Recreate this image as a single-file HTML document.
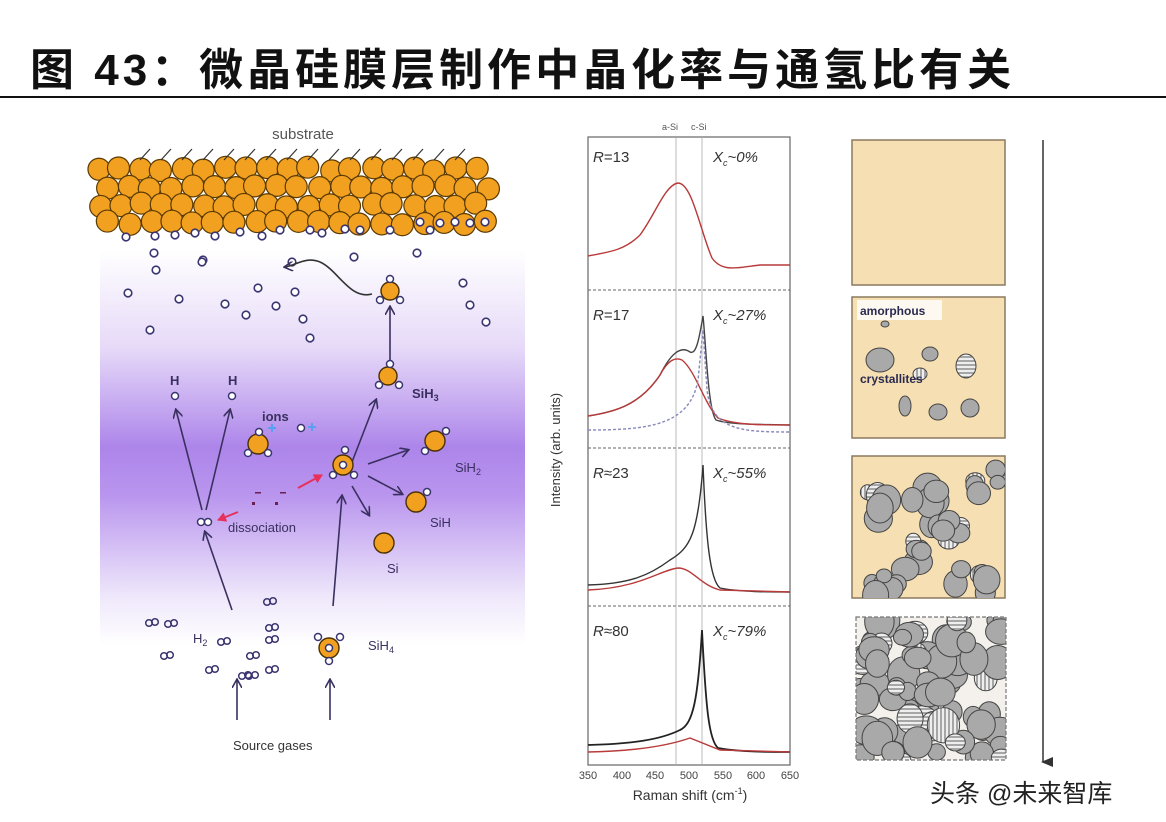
<!DOCTYPE html>
<html><head><meta charset="utf-8">
<style>
html,body{margin:0;padding:0;background:#fff;}
body{width:1166px;height:822px;overflow:hidden;position:relative;font-family:"Liberation Sans","Noto Sans CJK SC",sans-serif;}
.title{position:absolute;left:30px;top:34px;font-size:44px;font-weight:bold;color:#111;letter-spacing:4px;font-family:"Liberation Sans","Noto Sans CJK SC",sans-serif;white-space:nowrap;}
.rule{position:absolute;left:0;top:96px;width:1166px;height:2px;background:#111;}
svg{position:absolute;left:0;top:0;}
</style></head><body>
<div class="title">图 43：微晶硅膜层制作中晶化率与通氢比有关</div>
<div class="rule"></div>
<svg width="1166" height="822" viewBox="0 0 1166 822" font-family="Liberation Sans, sans-serif">
<defs>
<linearGradient id="pg" x1="0" y1="0" x2="0" y2="1">
<stop offset="0" stop-color="#fff"/>
<stop offset="0.25" stop-color="#e6d9f8"/>
<stop offset="0.5" stop-color="#ad85ea"/>
<stop offset="0.62" stop-color="#b995ee"/>
<stop offset="0.88" stop-color="#efe8fb"/>
<stop offset="1" stop-color="#fff"/>
</linearGradient>
<clipPath id="c4"><rect x="856" y="617" width="150" height="143"/></clipPath>
<clipPath id="c3"><rect x="852" y="456" width="153" height="142"/></clipPath>
<marker id="ar" markerWidth="10" markerHeight="10" refX="8" refY="5" orient="auto" markerUnits="userSpaceOnUse"><path d="M0,0 L9,5 L0,10" fill="none" stroke="#3a3060" stroke-width="1.6"/></marker>
<marker id="arr" markerWidth="10" markerHeight="10" refX="8" refY="5" orient="auto" markerUnits="userSpaceOnUse"><path d="M0,0 L9,5 L0,10 z" fill="#e8305a"/></marker>
<marker id="ak" markerWidth="10" markerHeight="12" refX="5" refY="10" orient="auto" markerUnits="userSpaceOnUse"><path d="M0,0 L10,0 L5,12 z" fill="#333"/></marker>
<pattern id="hl" width="6" height="4" patternUnits="userSpaceOnUse"><rect width="6" height="4" fill="#eee"/><line x1="0" y1="1" x2="6" y2="1" stroke="#777" stroke-width="1.2"/></pattern>
<pattern id="vl" width="4" height="6" patternUnits="userSpaceOnUse"><rect width="4" height="6" fill="#eee"/><line x1="1" y1="0" x2="1" y2="6" stroke="#777" stroke-width="1.2"/></pattern>
</defs>

<rect x="100" y="250" width="425" height="395" fill="url(#pg)"/>
<text x="303" y="139" font-size="15" fill="#555" text-anchor="middle">substrate</text>
<g id="sub"></g>
<g id="hs" fill="#fff" stroke="#3a3570" stroke-width="1.6"></g>

<path d="M372,294 C350,300 338,270 320,262 C305,256 295,266 285,267" fill="none" stroke="#333" stroke-width="1.6" marker-end="url(#ar)"/>
<g stroke="#3a3060" stroke-width="1.6" fill="none" marker-end="url(#ar)">
<line x1="390" y1="362" x2="390" y2="307"/>
<line x1="202" y1="510" x2="176" y2="410"/>
<line x1="206" y1="510" x2="230" y2="410"/>
<line x1="232" y1="610" x2="205" y2="532"/>
<line x1="352" y1="462" x2="376" y2="400"/>
<line x1="368" y1="464" x2="408" y2="450"/>
<line x1="368" y1="476" x2="402" y2="494"/>
<line x1="352" y1="486" x2="369" y2="515"/>
<line x1="333" y1="606" x2="342" y2="496"/>
<line x1="237" y1="720" x2="237" y2="680"/>
<line x1="330" y1="720" x2="330" y2="680"/>
</g>
<line x1="298" y1="488" x2="322" y2="475" stroke="#e8305a" stroke-width="2" marker-end="url(#arr)"/>
<line x1="238" y1="512" x2="218" y2="520" stroke="#e8305a" stroke-width="2" marker-end="url(#arr)"/>
<g fill="#6a2050"><rect x="252" y="502" width="3" height="3"/><rect x="275" y="502" width="3" height="3"/><rect x="255" y="492" width="6" height="1.5"/><rect x="280" y="492" width="6" height="1.5"/></g>

<g stroke="#4a3000" stroke-width="1.4" fill="#f2a020">
<circle cx="390" cy="291" r="9"/><circle cx="388" cy="376" r="9"/><circle cx="258" cy="444" r="10"/>
<circle cx="343" cy="465" r="10"/><circle cx="435" cy="441" r="10"/><circle cx="416" cy="502" r="10"/>
<circle cx="384" cy="543" r="10"/><circle cx="329" cy="648" r="10"/>
</g>
<g fill="#fff" stroke="#3a3570" stroke-width="1.5">
<circle cx="390" cy="279" r="3.5"/><circle cx="380" cy="300" r="3.5"/><circle cx="400" cy="300" r="3.5"/>
<circle cx="390" cy="364" r="3.5"/><circle cx="379" cy="385" r="3.5"/><circle cx="399" cy="385" r="3.5"/>
<circle cx="259" cy="432" r="3.5"/><circle cx="248" cy="453" r="3.5"/><circle cx="268" cy="453" r="3.5"/>
<circle cx="343" cy="465" r="3.5"/><circle cx="345" cy="450" r="3.5"/><circle cx="333" cy="475" r="3.5"/><circle cx="354" cy="475" r="3.5"/>
<circle cx="446" cy="431" r="3.5"/><circle cx="425" cy="451" r="3.5"/><circle cx="427" cy="492" r="3.5"/>
<circle cx="329" cy="648" r="3.5"/><circle cx="318" cy="637" r="3.5"/><circle cx="340" cy="637" r="3.5"/><circle cx="329" cy="661" r="3.5"/>
<circle cx="175" cy="396" r="3.5"/><circle cx="232" cy="396" r="3.5"/><circle cx="301" cy="428" r="3.5"/>
<circle cx="201" cy="522" r="3.5"/><circle cx="208" cy="522" r="3.5"/>
</g>
<g fill="#5aa0f0"><rect x="268" y="427" width="8" height="2"/><rect x="271" y="424" width="2" height="8"/><rect x="308" y="426" width="8" height="2"/><rect x="311" y="423" width="2" height="8"/></g>
<g id="h2" fill="none" stroke="#3a3570" stroke-width="1.5"></g>
<g font-size="13" fill="#3a3060">
<text x="170" y="385" font-weight="bold">H</text><text x="228" y="385" font-weight="bold">H</text>
<text x="262" y="421" font-weight="bold">ions</text>
<text x="412" y="398" font-weight="bold">SiH<tspan font-size="9" dy="3">3</tspan></text>
<text x="455" y="472">SiH<tspan font-size="9" dy="3">2</tspan></text>
<text x="430" y="527">SiH</text>
<text x="387" y="573">Si</text>
<text x="228" y="532">dissociation</text>
<text x="193" y="643">H<tspan font-size="9" dy="3">2</tspan></text>
<text x="368" y="650">SiH<tspan font-size="9" dy="3">4</tspan></text>
<text x="233" y="750" fill="#333">Source gases</text>
</g>

<g font-size="9" fill="#555"><text x="662" y="130">a-Si</text><text x="691" y="130">c-Si</text></g>
<rect x="588" y="137" width="202" height="628" fill="none" stroke="#666" stroke-width="1.2"/>
<g stroke="#666" stroke-width="1" stroke-dasharray="3,2"><line x1="588" y1="290" x2="790" y2="290"/><line x1="588" y1="448" x2="790" y2="448"/><line x1="588" y1="606" x2="790" y2="606"/></g>
<g stroke="#aaa" stroke-width="0.8"><line x1="676" y1="137" x2="676" y2="765"/><line x1="702" y1="137" x2="702" y2="765"/></g>
<g font-size="15" fill="#333" font-style="italic">
<text x="593" y="162">R<tspan font-style="normal">=13</tspan></text><text x="713" y="162">X<tspan font-size="9" dy="4">c</tspan><tspan dy="-4">~0%</tspan></text>
<text x="593" y="320">R<tspan font-style="normal">=17</tspan></text><text x="713" y="320">X<tspan font-size="9" dy="4">c</tspan><tspan dy="-4">~27%</tspan></text>
<text x="593" y="478">R<tspan font-style="normal">≈23</tspan></text><text x="713" y="478">X<tspan font-size="9" dy="4">c</tspan><tspan dy="-4">~55%</tspan></text>
<text x="593" y="636">R<tspan font-style="normal">≈80</tspan></text><text x="713" y="636">X<tspan font-size="9" dy="4">c</tspan><tspan dy="-4">~79%</tspan></text>
</g>
<g fill="none" stroke-width="1.4">
<path d="M588,256 C610,252 625,250 640,235 C655,215 665,185 678,183 C692,183 700,230 712,258 C722,272 735,268 760,265 L790,265" stroke="#b83a3a"/>
<path d="M588,416 C615,412 640,405 660,375 C670,355 680,345 690,352 C696,355 699,340 703,316 C706,345 708,410 716,420 C730,425 760,424 790,425" stroke="#444"/>
<path d="M588,416 C615,412 640,405 660,375 C668,360 675,357 682,360 C695,370 705,405 718,418 C735,425 760,425 790,425" stroke="#b83a3a"/>
<path d="M588,430 C650,430 690,425 698,380 L703,330 L707,390 C712,430 740,432 790,432" stroke="#8888bb" stroke-dasharray="3,2"/>
<path d="M588,585 C630,584 650,575 670,560 C690,548 698,535 703,465 C706,540 710,580 720,588 C740,592 770,592 790,592" stroke="#333"/>
<path d="M588,590 C640,588 660,570 678,568 C692,568 700,585 720,590 L790,592" stroke="#b83a3a"/>
<path d="M588,745 C630,744 660,740 680,730 C693,724 698,700 702,630 C706,710 709,740 718,748 C740,752 770,752 790,752" stroke="#222" stroke-width="1.8"/>
<path d="M588,752 C640,751 670,745 690,738 L720,750 L790,752" stroke="#b83a3a"/>
</g>
<g font-size="11" fill="#444" text-anchor="middle">
<text x="588" y="779">350</text><text x="622" y="779">400</text><text x="655" y="779">450</text><text x="689" y="779">500</text><text x="723" y="779">550</text><text x="756" y="779">600</text><text x="790" y="779">650</text>
</g>
<text x="690" y="800" font-size="14" fill="#333" text-anchor="middle">Raman shift (cm<tspan font-size="9" dy="-6">-1</tspan><tspan dy="6">)</tspan></text>
<text transform="translate(560,450) rotate(-90)" font-size="13" fill="#333" text-anchor="middle">Intensity (arb. units)</text>

<g stroke="#8a7a60" stroke-width="1.5" fill="#f6dfb2">
<rect x="852" y="140" width="153" height="145"/>
<rect x="852" y="297" width="153" height="141"/>
<rect x="852" y="456" width="153" height="142"/>
</g>
<rect x="856" y="617" width="150" height="143" fill="#f4f1ec"/>
<rect x="857" y="300" width="85" height="20" fill="#fff" opacity="0.8"/>
<g id="sq" stroke="#444" stroke-width="1"></g>
<g id="sq3" stroke="#444" stroke-width="1" clip-path="url(#c3)"></g>
<g id="sq4" stroke="#444" stroke-width="1" clip-path="url(#c4)"></g>
<rect x="856" y="617" width="150" height="143" fill="none" stroke="#777" stroke-width="1.2" stroke-dasharray="4,2"/>
<g font-size="12" fill="#2a2a50" font-weight="bold"><text x="860" y="315">amorphous</text><text x="860" y="383">crystallites</text></g>
<line x1="1043" y1="140" x2="1043" y2="762" stroke="#333" stroke-width="1.5" marker-end="url(#ak)"/>
<text x="930" y="802" font-size="25" fill="#222" font-family="Liberation Sans, Noto Sans CJK SC, sans-serif">头条 @未来智库</text>
</svg>
<script>
var ns="http://www.w3.org/2000/svg";
function C(g,a){var e=document.createElementNS(ns,a.t||"circle");for(var k in a)if(k!="t")e.setAttribute(k,a[k]);g.appendChild(e);}
var s=7;function R(){s=(s*9301+49297)%233280;return s/233280;}
var sub=document.getElementById("sub");
for(var r=0;r<4;r++){for(var i=0;i<19;i++){var x=97+i*21+(r%2?10:0)+R()*4,y=167+r*18+R()*4;
C(sub,{cx:x,cy:y,r:11,fill:"#f2a020",stroke:"#5a3a00","stroke-width":1.2});}}
for(var i=0;i<16;i++){C(sub,{t:"line",x1:140+i*21,y1:160,x2:150+i*21,y2:149,stroke:"#333","stroke-width":1.2});}
var hs=document.getElementById("hs");
var pts=[[126,237],[155,236],[175,235],[195,233],[215,236],[240,232],[262,236],[280,230],[310,230],[322,233],[345,229],[360,230],[390,230],[420,222],[430,230],[440,223],[455,222],[470,223],[485,222],[154,253],[203,260],[156,270],[202,262],[292,262],[354,257],[417,253],[128,293],[179,299],[225,304],[258,288],[295,292],[276,306],[303,319],[150,330],[246,315],[463,283],[470,305],[486,322],[310,338]];
pts.forEach(function(p){C(hs,{cx:p[0],cy:p[1],r:3.8});});
var h2=document.getElementById("h2");
[[152,623],[171,624],[167,656],[224,642],[212,670],[252,676],[270,602],[272,628],[272,640],[253,656],[245,676],[272,670]].forEach(function(p){C(h2,{cx:p[0]-3,cy:p[1],r:3.3});C(h2,{cx:p[0]+3,cy:p[1]-1,r:3.3});});
var sq=document.getElementById("sq");
[[885,324,4,3],[930,354,8,7],[880,360,14,12],[920,374,7,6],[966,366,10,12],[905,406,6,10],[938,412,9,8],[970,408,9,9]].forEach(function(p,i){C(sq,{t:"ellipse",cx:p[0],cy:p[1],rx:p[2],ry:p[3],fill:i==4?"url(#hl)":(i==3?"url(#vl)":"#a9a9a9")});});
var sq3=document.getElementById("sq3");
var cl=[[880,500,22],[930,505,22],[985,480,18],[920,560,22],[970,575,22],[880,580,20],[950,530,15]];
cl.forEach(function(c,j){for(var k=0;k<6;k++){var x=c[0]+(R()-0.5)*c[2]*1.8,y=c[1]+(R()-0.5)*c[2]*1.8,r=7+R()*8;C(sq3,{t:"ellipse",cx:x,cy:y,rx:r,ry:r*(0.85+R()*0.3),fill:(k==0&&j%2==0)?"url(#vl)":(k==1&&j%3==0?"url(#hl)":"#a9a9a9")});}});
var sq4=document.getElementById("sq4");
for(var i=0;i<80;i++){var x=860+R()*145,y=620+R()*140,r=8+R()*9;C(sq4,{t:"ellipse",cx:x,cy:y,rx:r,ry:r*(0.8+R()*0.4),fill:(i%6==0)?"url(#hl)":(i%9==0?"url(#vl)":"#a9a9a9")});}
</script>
</body></html>
